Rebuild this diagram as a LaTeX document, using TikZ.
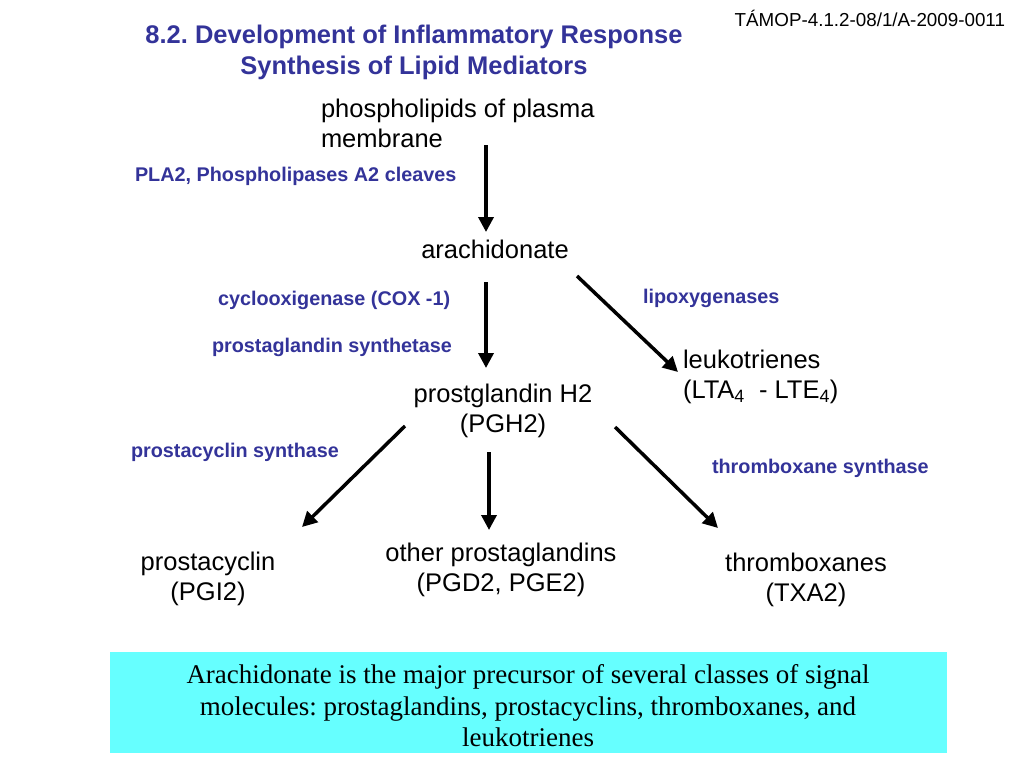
\documentclass[tikz,border=0pt]{standalone}
\usepackage{fontspec}
\setmainfont{Liberation Sans}
\newfontfamily\boxfont{Liberation Serif}
\usepackage{tikz}
\usetikzlibrary{positioning,arrows.meta,calc}
\definecolor{titleblue}{RGB}{51,51,153}
\definecolor{notecyan}{RGB}{102,255,255}
\frenchspacing

\begin{document}
\begin{tikzpicture}[x=1pt, y=-1pt,
                    every node/.style={inner sep=0pt, outer sep=0pt},
                    compound/.style={font=\fontsize{25.5}{30}\selectfont, align=center},
                    enzyme/.style={font=\fontsize{19.8}{22}\selectfont\bfseries, text=titleblue, anchor=west},
                    flow/.style={line width=3.5pt, -{Triangle[length=15pt, width=15pt]}}]
        \useasboundingbox (0,0) rectangle (1024,768);
        % title and header
        \node (title) at (414,52) [font=\fontsize{25.5}{31}\selectfont\bfseries, text=titleblue, align=center]
             {8.2. Development of Inflammatory Response\\Synthesis of Lipid Mediators};
        \node (tamop) at (1005,18) [anchor=east, font=\fontsize{18.8}{20}\selectfont] {TÁMOP-4.1.2-08/1/A-2009-0011};
        % compounds
        \node (phos) at (321,123) [compound, anchor=west, align=left] {phospholipids of plasma\\membrane};
        \node (arach) at (495,249) [compound] {arachidonate};
        \node (pgh) at (503,411) [compound] {prostglandin H2\\(PGH2)};
        \node (leuk) at (683,377) [compound, anchor=west, align=left]
             {leukotrienes\\(LTA\textsubscript{4}\ \ - LTE\textsubscript{4})};
        \node (pgi) at (208,579) [compound] {prostacyclin\\(PGI2)};
        \node (other) at (501,570) [compound] {other prostaglandins\\(PGD2, PGE2)};
        \node (txa) at (806,580) [compound] {thromboxanes\\(TXA2)};
        % enzymes
        \node (pla) at (135,176) [enzyme] {PLA2, Phospholipases A2 cleaves};
        \node (cox) at (218,300) [enzyme] {cyclooxigenase (COX -1)};
        \node (lox) at (643,298) [enzyme] {lipoxygenases};
        \node (pgs) at (212,347) [enzyme] {prostaglandin synthetase};
        \node (pcs) at (131,452) [enzyme] {prostacyclin synthase};
        \node (txs) at (712,468) [enzyme] {thromboxane synthase};
        % arrows
        \draw[flow] ($(phos.west)+(165,22)$) -- ($(arach)+(-9,-17)$);
        \draw[flow] ($(arach)+(-9,33)$) -- ($(pgh)+(-17,-43)$);
        \draw[flow] ($(arach)+(82,27)$) -- ($(leuk.west)+(-5,-5)$);
        \draw[flow] ($(pgh)+(-98,15)$) -- ($(pgi)+(94,-52)$);
        \draw[flow] ($(pgh)+(-14,41)$) -- ($(other)+(-12,-40)$);
        \draw[flow] ($(pgh)+(112,16)$) -- ($(txa)+(-88,-52)$);
        % summary box
        \fill[notecyan] (110,652) rectangle (947,753);
        \node (summary) at (528,706) [font=\boxfont\fontsize{27}{31.5}\selectfont, align=center]
             {Arachidonate is the major precursor of several classes of signal\\
              molecules: prostaglandins, prostacyclins, thromboxanes, and\\
              leukotrienes};
      \end{tikzpicture}
\end{document}
